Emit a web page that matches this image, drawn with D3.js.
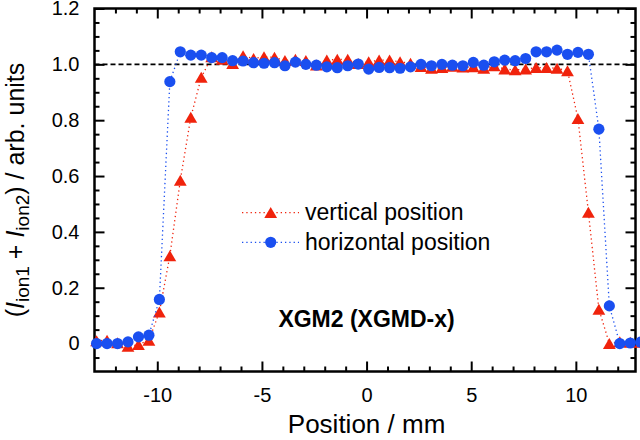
<!DOCTYPE html>
<html>
<head>
<meta charset="utf-8">
<script src="https://cdn.jsdelivr.net/npm/d3@7"></script>
<style>
  html, body { margin: 0; padding: 0; background: #fff; }
  svg { display: block; font-family: "Liberation Sans", Arial, sans-serif; }
</style>
</head>
<body>
<svg id="chart" width="640" height="440"></svg>
<script>
// ---- data ----
const positions = [-12.9,-12.4,-11.9,-11.4,-10.9,-10.4,-9.9,-9.4,-8.9,-8.4,-7.9,-7.4,-6.9,-6.4,-5.9,-5.4,-4.9,-4.4,-3.9,-3.4,-2.9,-2.4,-1.9,-1.4,-0.9,-0.4,0.1,0.6,1.1,1.6,2.1,2.6,3.1,3.6,4.1,4.6,5.1,5.6,6.1,6.6,7.1,7.6,8.1,8.6,9.1,9.6,10.1,10.6,11.1,11.6,12.1,12.6,13.1];
const verticalValues = [0.010,0.012,0.003,-0.010,-0.004,0.012,0.113,0.314,0.585,0.810,0.953,1.027,1.018,1.003,1.030,1.021,1.027,1.025,1.013,1.018,1.013,0.997,1.015,1.018,1.018,1.003,1.009,1.015,1.015,1.009,1.004,0.992,0.986,0.988,0.993,0.990,0.991,0.986,0.995,0.983,0.980,0.983,0.988,0.988,0.986,0.977,0.806,0.470,0.123,0.000,0.006,0.004,0.004];
const horizontalValues = [0.000,0.000,0.000,0.006,0.024,0.030,0.158,0.938,1.045,1.033,1.033,1.024,1.024,1.013,1.012,1.006,1.004,1.006,0.995,1.008,1.000,0.997,0.991,0.988,0.995,1.001,0.983,0.989,0.988,0.986,0.991,1.000,0.995,1.000,0.997,0.995,1.007,0.997,1.009,1.015,1.013,1.021,1.045,1.045,1.051,1.036,1.043,1.036,0.768,0.135,0.000,0.002,0.005];
const seriesNames = ["vertical position", "horizontal position"];
const xMajorTicks = [-10, -5, 0, 5, 10];
const yMajorTicks = [0, 0.2, 0.4, 0.6, 0.8, 1.0, 1.2];
const xTitle = "Position / mm";
const annotation = "XGM2 (XGMD-x)";
const referenceLevel = 1.0;

// ---- layout ----
const svg = d3.select("#chart");
const L = 94.5, R = 635.5, T = 8.5, B = 371.5;
const x = d3.scaleLinear().domain([-13, 12.85]).range([L, R]);
const y = d3.scaleLinear().domain([-0.1, 1.2]).range([B, T]);
const RED = "#f0230c", BLUE = "#1a4ff0";

const xMinor = d3.range(-12, 13, 1).filter(v => v % 5 !== 0);
const yMinor = d3.range(-0.05, 1.2, 0.05).map(v => +v.toFixed(2)).filter(v => Math.abs(Math.round(v / 0.2) * 0.2 - v) > 1e-6);
const xFmt = v => String(v);               // plain hyphen-minus like the reference
const yFmt = v => v === 0 ? "0" : v.toFixed(1);

function styleAxis(g) {
  g.select(".domain").remove();
  g.selectAll(".tick line").attr("stroke", "#000").attr("stroke-width", 2);
  g.selectAll(".tick text").attr("font-size", 20).attr("fill", "#000");
}

// bottom
svg.append("g").attr("transform", `translate(0,${B})`)
  .call(d3.axisBottom(x).tickValues(xMajorTicks).tickSize(-10).tickPadding(16).tickFormat(xFmt))
  .call(styleAxis);
svg.append("g").attr("transform", `translate(0,${B})`)
  .call(d3.axisBottom(x).tickValues(xMinor).tickSize(-5).tickFormat(""))
  .call(styleAxis);
// top
svg.append("g").attr("transform", `translate(0,${T})`)
  .call(d3.axisTop(x).tickValues(xMajorTicks).tickSize(-10).tickFormat(""))
  .call(styleAxis);
svg.append("g").attr("transform", `translate(0,${T})`)
  .call(d3.axisTop(x).tickValues(xMinor).tickSize(-5).tickFormat(""))
  .call(styleAxis);
// left
svg.append("g").attr("transform", `translate(${L},0)`)
  .call(d3.axisLeft(y).tickValues(yMajorTicks).tickSize(-10).tickPadding(15).tickFormat(yFmt))
  .call(styleAxis);
svg.append("g").attr("transform", `translate(${L},0)`)
  .call(d3.axisLeft(y).tickValues(yMinor).tickSize(-5).tickFormat(""))
  .call(styleAxis);
// right
svg.append("g").attr("transform", `translate(${R},0)`)
  .call(d3.axisRight(y).tickValues(yMajorTicks).tickSize(-10).tickFormat(""))
  .call(styleAxis);
svg.append("g").attr("transform", `translate(${R},0)`)
  .call(d3.axisRight(y).tickValues(yMinor).tickSize(-5).tickFormat(""))
  .call(styleAxis);

// reference dashed line
svg.append("line")
  .attr("x1", L).attr("x2", R)
  .attr("y1", y(referenceLevel)).attr("y2", y(referenceLevel))
  .attr("stroke", "#000").attr("stroke-width", 1.6).attr("stroke-dasharray", "5,3");

// frame
svg.append("rect").attr("x", L).attr("y", T).attr("width", R - L).attr("height", B - T)
  .attr("fill", "none").attr("stroke", "#000").attr("stroke-width", 2.5);

const triPath = "M0,-5.6L6.4,5.4L-6.4,5.4Z";
const line = d3.line().x(d => x(d[0])).y(d => y(d[1]));
const vData = positions.map((p, i) => [p, verticalValues[i]]);
const hData = positions.map((p, i) => [p, horizontalValues[i]]);

// vertical (red)
svg.append("path").datum(vData).attr("d", line)
  .attr("fill", "none").attr("stroke", RED).attr("stroke-width", 1.3).attr("stroke-dasharray", "1.3,3");
svg.append("g").selectAll("path").data(vData).join("path")
  .attr("d", triPath).attr("fill", RED)
  .attr("transform", d => `translate(${x(d[0])},${y(d[1])})`);

// horizontal (blue)
svg.append("path").datum(hData).attr("d", line)
  .attr("fill", "none").attr("stroke", BLUE).attr("stroke-width", 1.3).attr("stroke-dasharray", "1.3,3");
svg.append("g").selectAll("circle").data(hData).join("circle")
  .attr("cx", d => x(d[0])).attr("cy", d => y(d[1])).attr("r", 5.6).attr("fill", BLUE);

// legend
const leg = svg.append("g");
const legItems = [
  {name: seriesNames[0], color: RED, shape: "tri", yy: 212.7},
  {name: seriesNames[1], color: BLUE, shape: "circ", yy: 242.3}
];
legItems.forEach(it => {
  leg.append("line").attr("x1", 242).attr("x2", 299).attr("y1", it.yy).attr("y2", it.yy)
    .attr("stroke", it.color).attr("stroke-width", 1.3).attr("stroke-dasharray", "1.3,3");
  if (it.shape === "tri") {
    leg.append("path").attr("d", triPath).attr("fill", it.color).attr("transform", `translate(270.7,${it.yy})`);
  } else {
    leg.append("circle").attr("cx", 270.7).attr("cy", it.yy).attr("r", 5.6).attr("fill", it.color);
  }
  leg.append("text").attr("x", 305).attr("y", it.yy + 7.6).attr("font-size", 23).attr("fill", "#000").text(it.name);
});

// annotation
svg.append("text").attr("x", x(0)).attr("y", 326.7).attr("text-anchor", "middle")
  .attr("font-size", 23).attr("font-weight", "bold").attr("fill", "#000").text(annotation);

// x title
svg.append("text").attr("x", x(0)).attr("y", 433).attr("text-anchor", "middle")
  .attr("font-size", 26).attr("fill", "#000").text(xTitle);

// y title
const yt = svg.append("text").attr("transform", `translate(24,${(T + B) / 2}) rotate(-90)`)
  .attr("text-anchor", "middle").attr("font-size", 25).attr("fill", "#000");
yt.append("tspan").text("(");
yt.append("tspan").attr("font-style", "italic").text("I");
yt.append("tspan").attr("font-size", 19).attr("dy", 5).text("ion1");
yt.append("tspan").attr("dy", -5).text(" + ");
yt.append("tspan").attr("font-style", "italic").text("I");
yt.append("tspan").attr("font-size", 19).attr("dy", 5).text("ion2");
yt.append("tspan").attr("dy", -5).text(") / arb. units");
</script>
</body>
</html>
